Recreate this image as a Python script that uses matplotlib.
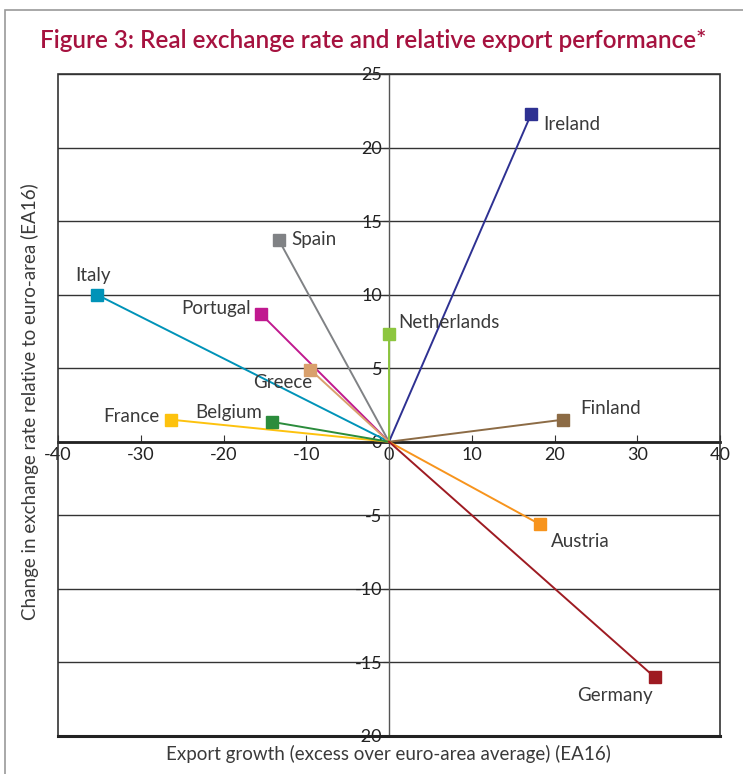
import matplotlib
matplotlib.use('Agg')
import matplotlib.pyplot as plt
from matplotlib.patches import Rectangle

plt.rcParams['font.family'] = ['Lato', 'DejaVu Sans']
plt.rcParams['axes.unicode_minus'] = False

# data
countries = ['Ireland', 'Spain', 'Italy', 'Portugal', 'Netherlands', 'Greece',
             'Finland', 'France', 'Belgium', 'Austria', 'Germany']
export_growth = [17.2, -13.3, -35.3, -15.5, 0.0, -9.5, 21.0, -26.3, -14.1, 18.2, 32.1]
exchange_rate = [22.3, 13.7, 10.0, 8.7, 7.3, 4.9, 1.5, 1.5, 1.35, -5.6, -16.0]
colors = ['#2E3192', '#808285', '#0093B8', '#C0198F', '#8DC63F', '#D9A06C',
          '#8C6B45', '#FDC20E', '#2B8C3C', '#F7941D', '#9E1B22']
# label offsets in pixels and alignment
label_pos = {
    'Ireland': (12, -11, 'left', 'center'),
    'Spain': (12, 1, 'left', 'center'),
    'Italy': (-4, 19, 'center', 'center'),
    'Portugal': (-10, 5, 'right', 'center'),
    'Netherlands': (9, 12, 'left', 'center'),
    'Greece': (-28, -13, 'center', 'center'),
    'Finland': (17, 11, 'left', 'center'),
    'France': (-12, 3, 'right', 'center'),
    'Belgium': (-10, 9, 'right', 'center'),
    'Austria': (11, -17, 'left', 'center'),
    'Germany': (-40, -18, 'center', 'center'),
}

title_color = '#A6123F'
text_color = '#3a3a3a'

fig = plt.figure(figsize=(7.43, 7.74), dpi=100)
fig.patches.append(Rectangle((5 / 743, -0.01), 1.0, 1 - 10 / 774 + 0.01,
                             transform=fig.transFigure, fill=False,
                             edgecolor='#9a9a9a', lw=1.2))
fig.text(40 / 743, 1 - 40 / 774, 'Figure 3: Real exchange rate and relative export performance*',
         color=title_color, fontsize=17.5, fontweight='semibold', va='center', ha='left')

ax = fig.add_axes([58 / 743, 38 / 774, 662 / 743, 662 / 774])
ax.set_xlim(-40, 40)
ax.set_ylim(-20, 25)

for c, x, y, col in zip(countries, export_growth, exchange_rate, colors):
    ax.plot([0, x], [0, y], color=col, lw=1.4, zorder=3)
    ax.plot([x], [y], marker='s', ms=8, color=col, zorder=4)
    dx, dy, ha, va = label_pos[c]
    ax.annotate(c, (x, y), xytext=(dx, dy), textcoords='offset pixels',
                ha=ha, va=va, fontsize=13.5, color=text_color)

# frame
for s in ['top', 'right']:
    ax.spines[s].set_visible(False)
ax.spines['left'].set_position(('data', 0))
ax.spines['bottom'].set_position(('data', 0))
ax.spines['left'].set_color('#555555')
ax.spines['left'].set_linewidth(1.0)
ax.spines['bottom'].set_color('#222222')
ax.spines['bottom'].set_linewidth(2.0)
ax.add_patch(Rectangle((0, 0), 1, 1, transform=ax.transAxes, fill=False,
                       edgecolor='#333333', lw=1.2, clip_on=False, zorder=5))
ax.plot([0, 1], [0, 0], transform=ax.transAxes, color='#222222', lw=2.2,
        clip_on=False, zorder=6)

ax.set_xticks(range(-40, 41, 10))
ax.set_yticks(range(-20, 26, 5))
ax.yaxis.grid(True, color='#333333', lw=1.0)
ax.set_axisbelow(True)
ax.tick_params(axis='y', direction='out', length=4, color='#333333',
               labelsize=13, labelcolor='#222222', pad=1)
ax.tick_params(axis='x', direction='in', length=5, color='#333333',
               labelsize=13, labelcolor='#222222', pad=4)

fig.text(30 / 743, 1 - 402 / 774, 'Change in exchange rate relative to euro-area (EA16)',
         rotation=90, ha='center', va='center', fontsize=13.5, color=text_color)
fig.text(388 / 743, 1 - 754 / 774, 'Export growth (excess over euro-area average) (EA16)',
         ha='center', va='center', fontsize=13.5, color=text_color)

fig.savefig('out.png', dpi=100)
